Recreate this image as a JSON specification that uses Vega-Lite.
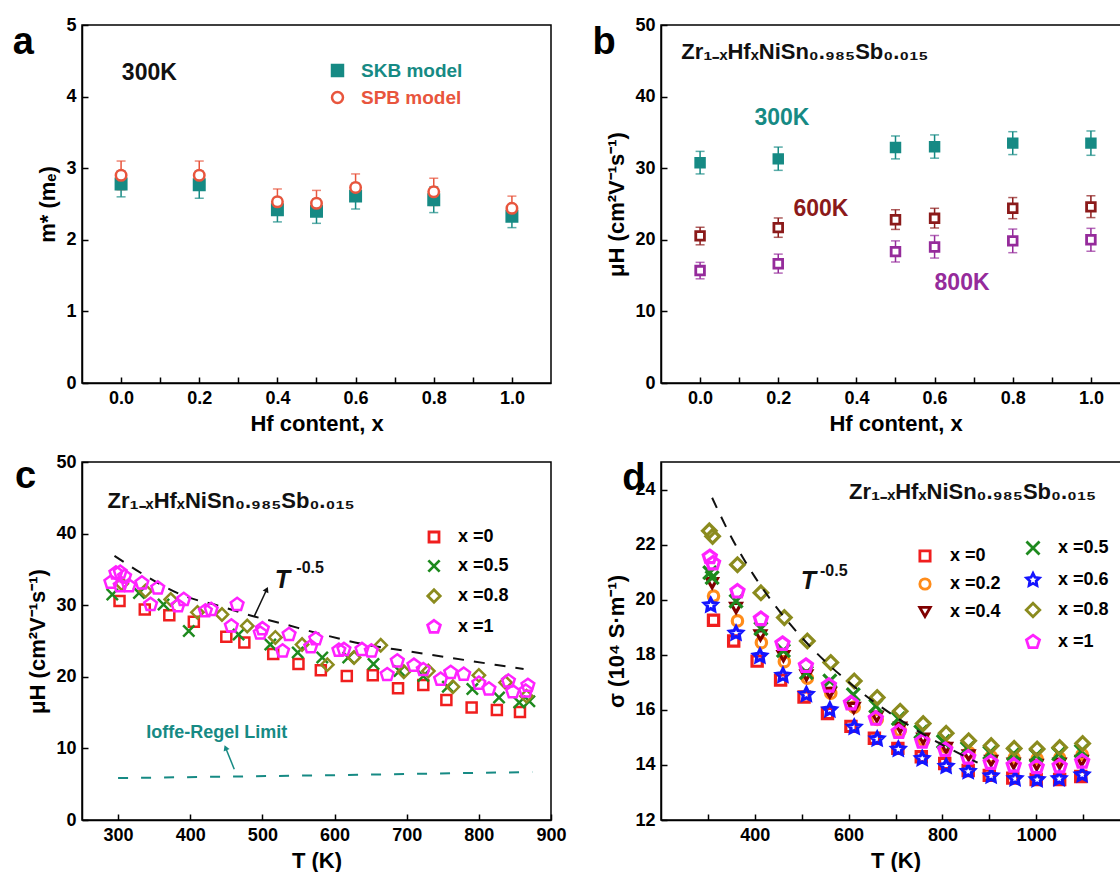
{
  "$schema": "https://vega.github.io/schema/vega-lite/v6.json",
  "background": "white",
  "padding": {"left": 12, "top": 15, "right": 0, "bottom": 0},
  "bounds": "flush",
  "columns": 2,
  "spacing": {"row": 79, "column": 110},
  "resolve": {"scale": {"color": "independent", "fill": "independent", "shape": "independent", "size": "independent"}},
  "datasets": {
    "a": [
      {"x": 0, "model": "SKB model", "m": 2.78, "lo": 2.60, "hi": 2.96},
      {"x": 0.2, "model": "SKB model", "m": 2.77, "lo": 2.58, "hi": 2.96},
      {"x": 0.4, "model": "SKB model", "m": 2.42, "lo": 2.25, "hi": 2.59},
      {"x": 0.5, "model": "SKB model", "m": 2.40, "lo": 2.23, "hi": 2.57},
      {"x": 0.6, "model": "SKB model", "m": 2.61, "lo": 2.43, "hi": 2.79},
      {"x": 0.8, "model": "SKB model", "m": 2.56, "lo": 2.38, "hi": 2.74},
      {"x": 1.0, "model": "SKB model", "m": 2.33, "lo": 2.17, "hi": 2.49},
      {"x": 0, "model": "SPB model", "m": 2.90, "lo": 2.70, "hi": 3.10},
      {"x": 0.2, "model": "SPB model", "m": 2.90, "lo": 2.70, "hi": 3.10},
      {"x": 0.4, "model": "SPB model", "m": 2.53, "lo": 2.35, "hi": 2.71},
      {"x": 0.5, "model": "SPB model", "m": 2.51, "lo": 2.33, "hi": 2.69},
      {"x": 0.6, "model": "SPB model", "m": 2.73, "lo": 2.54, "hi": 2.92},
      {"x": 0.8, "model": "SPB model", "m": 2.67, "lo": 2.48, "hi": 2.86},
      {"x": 1.0, "model": "SPB model", "m": 2.44, "lo": 2.27, "hi": 2.61}
    ],
    "b": [
      {"x": 0, "T": "300K", "mu": 30.75, "lo": 29.2, "hi": 32.35},
      {"x": 0.2, "T": "300K", "mu": 31.3, "lo": 29.7, "hi": 32.95},
      {"x": 0.5, "T": "300K", "mu": 32.9, "lo": 31.3, "hi": 34.5},
      {"x": 0.6, "T": "300K", "mu": 33.0, "lo": 31.4, "hi": 34.65},
      {"x": 0.8, "T": "300K", "mu": 33.5, "lo": 31.9, "hi": 35.1},
      {"x": 1.0, "T": "300K", "mu": 33.5, "lo": 31.8, "hi": 35.2},
      {"x": 0, "T": "600K", "mu": 20.55, "lo": 19.3, "hi": 21.75},
      {"x": 0.2, "T": "600K", "mu": 21.7, "lo": 20.35, "hi": 23.05},
      {"x": 0.5, "T": "600K", "mu": 22.8, "lo": 21.45, "hi": 24.2},
      {"x": 0.6, "T": "600K", "mu": 23.0, "lo": 21.65, "hi": 24.4},
      {"x": 0.8, "T": "600K", "mu": 24.4, "lo": 22.95, "hi": 25.9},
      {"x": 1.0, "T": "600K", "mu": 24.6, "lo": 23.1, "hi": 26.15},
      {"x": 0, "T": "800K", "mu": 15.7, "lo": 14.55, "hi": 16.85},
      {"x": 0.2, "T": "800K", "mu": 16.65, "lo": 15.35, "hi": 18.0},
      {"x": 0.5, "T": "800K", "mu": 18.35, "lo": 16.9, "hi": 19.85},
      {"x": 0.6, "T": "800K", "mu": 19.0, "lo": 17.45, "hi": 20.6},
      {"x": 0.8, "T": "800K", "mu": 19.85, "lo": 18.2, "hi": 21.5},
      {"x": 1.0, "T": "800K", "mu": 20.0, "lo": 18.4, "hi": 21.6}
    ],
    "c": [
      {"T": 302, "mu": 30.6, "s": "x =0"}, {"T": 337, "mu": 29.4, "s": "x =0"}, {"T": 371, "mu": 28.6, "s": "x =0"},
      {"T": 405, "mu": 27.7, "s": "x =0"}, {"T": 450, "mu": 25.6, "s": "x =0"}, {"T": 475, "mu": 24.8, "s": "x =0"},
      {"T": 515, "mu": 23.2, "s": "x =0"}, {"T": 550, "mu": 21.8, "s": "x =0"}, {"T": 581, "mu": 20.9, "s": "x =0"},
      {"T": 617, "mu": 20.1, "s": "x =0"}, {"T": 653, "mu": 20.2, "s": "x =0"}, {"T": 688, "mu": 18.4, "s": "x =0"},
      {"T": 723, "mu": 18.85, "s": "x =0"}, {"T": 755, "mu": 16.75, "s": "x =0"}, {"T": 790, "mu": 15.7, "s": "x =0"},
      {"T": 825, "mu": 15.35, "s": "x =0"}, {"T": 857, "mu": 15.1, "s": "x =0"},
      {"T": 292, "mu": 31.5, "s": "x =0.5"}, {"T": 329, "mu": 31.7, "s": "x =0.5"}, {"T": 363, "mu": 30.1, "s": "x =0.5"},
      {"T": 398, "mu": 26.4, "s": "x =0.5"}, {"T": 467, "mu": 25.9, "s": "x =0.5"}, {"T": 511, "mu": 24.5, "s": "x =0.5"},
      {"T": 549, "mu": 23.4, "s": "x =0.5"}, {"T": 583, "mu": 22.7, "s": "x =0.5"}, {"T": 619, "mu": 22.7, "s": "x =0.5"},
      {"T": 654, "mu": 21.8, "s": "x =0.5"}, {"T": 690, "mu": 20.8, "s": "x =0.5"}, {"T": 723, "mu": 20.1, "s": "x =0.5"},
      {"T": 757, "mu": 18.6, "s": "x =0.5"}, {"T": 791, "mu": 18.3, "s": "x =0.5"}, {"T": 828, "mu": 17.1, "s": "x =0.5"},
      {"T": 856, "mu": 16.4, "s": "x =0.5"}, {"T": 870, "mu": 16.6, "s": "x =0.5"},
      {"T": 305, "mu": 33.0, "s": "x =0.8"}, {"T": 338, "mu": 32.0, "s": "x =0.8"}, {"T": 373, "mu": 30.8, "s": "x =0.8"},
      {"T": 410, "mu": 29.0, "s": "x =0.8"}, {"T": 444, "mu": 28.7, "s": "x =0.8"}, {"T": 479, "mu": 27.1, "s": "x =0.8"},
      {"T": 518, "mu": 25.5, "s": "x =0.8"}, {"T": 555, "mu": 24.5, "s": "x =0.8"}, {"T": 590, "mu": 21.7, "s": "x =0.8"},
      {"T": 627, "mu": 22.7, "s": "x =0.8"}, {"T": 664, "mu": 24.4, "s": "x =0.8"}, {"T": 696, "mu": 20.7, "s": "x =0.8"},
      {"T": 730, "mu": 20.8, "s": "x =0.8"}, {"T": 764, "mu": 18.6, "s": "x =0.8"}, {"T": 800, "mu": 20.2, "s": "x =0.8"},
      {"T": 837, "mu": 19.2, "s": "x =0.8"}, {"T": 866, "mu": 17.3, "s": "x =0.8"},
      {"T": 290, "mu": 33.2, "s": "x =1"}, {"T": 297, "mu": 34.5, "s": "x =1"}, {"T": 303, "mu": 34.6, "s": "x =1"},
      {"T": 309, "mu": 34.0, "s": "x =1"}, {"T": 303, "mu": 32.7, "s": "x =1"}, {"T": 315, "mu": 32.7, "s": "x =1"},
      {"T": 333, "mu": 33.1, "s": "x =1"}, {"T": 345, "mu": 30.1, "s": "x =1"}, {"T": 355, "mu": 32.4, "s": "x =1"},
      {"T": 383, "mu": 29.9, "s": "x =1"}, {"T": 391, "mu": 30.8, "s": "x =1"}, {"T": 421, "mu": 29.2, "s": "x =1"},
      {"T": 429, "mu": 29.4, "s": "x =1"}, {"T": 457, "mu": 27.1, "s": "x =1"}, {"T": 465, "mu": 30.1, "s": "x =1"},
      {"T": 497, "mu": 26.1, "s": "x =1"}, {"T": 500, "mu": 26.7, "s": "x =1"}, {"T": 528, "mu": 23.6, "s": "x =1"},
      {"T": 537, "mu": 25.9, "s": "x =1"}, {"T": 567, "mu": 24.2, "s": "x =1"}, {"T": 574, "mu": 25.3, "s": "x =1"},
      {"T": 606, "mu": 23.7, "s": "x =1"}, {"T": 613, "mu": 23.8, "s": "x =1"}, {"T": 638, "mu": 23.8, "s": "x =1"},
      {"T": 651, "mu": 23.6, "s": "x =1"}, {"T": 673, "mu": 20.3, "s": "x =1"}, {"T": 687, "mu": 22.2, "s": "x =1"},
      {"T": 710, "mu": 21.6, "s": "x =1"}, {"T": 723, "mu": 21.0, "s": "x =1"}, {"T": 747, "mu": 19.65, "s": "x =1"},
      {"T": 761, "mu": 20.6, "s": "x =1"}, {"T": 779, "mu": 20.35, "s": "x =1"}, {"T": 800, "mu": 19.1, "s": "x =1"},
      {"T": 814, "mu": 18.3, "s": "x =1"}, {"T": 841, "mu": 19.4, "s": "x =1"}, {"T": 847, "mu": 17.9, "s": "x =1"},
      {"T": 865, "mu": 18.0, "s": "x =1"}, {"T": 868, "mu": 18.8, "s": "x =1"}
    ],
    "cline": [
      {"T": 295, "mu": 36.9}, {"T": 340, "mu": 34.0}, {"T": 389, "mu": 31.4}, {"T": 440, "mu": 29.9},
      {"T": 486, "mu": 28.5}, {"T": 523, "mu": 27.55}, {"T": 580, "mu": 26.0}, {"T": 638, "mu": 24.6},
      {"T": 700, "mu": 23.6}, {"T": 760, "mu": 22.67}, {"T": 825, "mu": 21.65}, {"T": 862, "mu": 21.1}
    ],
    "cioffe": [
      {"T": 300, "mu": 5.85}, {"T": 590, "mu": 6.25}, {"T": 874, "mu": 6.7}
    ],
    "d1": [
      {"T": 312, "sg": 19.25, "s": "x =0"}, {"T": 355, "sg": 18.5, "s": "x =0"}, {"T": 405, "sg": 17.77, "s": "x =0"},
      {"T": 455, "sg": 17.08, "s": "x =0"}, {"T": 505, "sg": 16.47, "s": "x =0"}, {"T": 555, "sg": 15.87, "s": "x =0"},
      {"T": 605, "sg": 15.4, "s": "x =0"}, {"T": 655, "sg": 14.97, "s": "x =0"}, {"T": 705, "sg": 14.6, "s": "x =0"},
      {"T": 755, "sg": 14.3, "s": "x =0"}, {"T": 805, "sg": 14.05, "s": "x =0"}, {"T": 855, "sg": 13.8, "s": "x =0"},
      {"T": 900, "sg": 13.62, "s": "x =0"}, {"T": 950, "sg": 13.52, "s": "x =0"}, {"T": 1000, "sg": 13.47, "s": "x =0"},
      {"T": 1050, "sg": 13.47, "s": "x =0"}, {"T": 1095, "sg": 13.58, "s": "x =0"},
      {"T": 312, "sg": 20.13, "s": "x =0.2"}, {"T": 363, "sg": 19.23, "s": "x =0.2"}, {"T": 414, "sg": 18.44, "s": "x =0.2"},
      {"T": 463, "sg": 17.75, "s": "x =0.2"}, {"T": 512, "sg": 17.15, "s": "x =0.2"}, {"T": 562, "sg": 16.6, "s": "x =0.2"},
      {"T": 612, "sg": 16.1, "s": "x =0.2"}, {"T": 661, "sg": 15.65, "s": "x =0.2"}, {"T": 710, "sg": 15.25, "s": "x =0.2"},
      {"T": 760, "sg": 14.9, "s": "x =0.2"}, {"T": 808, "sg": 14.65, "s": "x =0.2"}, {"T": 857, "sg": 14.45, "s": "x =0.2"},
      {"T": 904, "sg": 14.3, "s": "x =0.2"}, {"T": 953, "sg": 14.25, "s": "x =0.2"}, {"T": 1002, "sg": 14.22, "s": "x =0.2"},
      {"T": 1050, "sg": 14.25, "s": "x =0.2"}, {"T": 1098, "sg": 14.38, "s": "x =0.2"},
      {"T": 309, "sg": 20.6, "s": "x =0.4"}, {"T": 360, "sg": 19.7, "s": "x =0.4"}, {"T": 412, "sg": 18.7, "s": "x =0.4"},
      {"T": 461, "sg": 17.95, "s": "x =0.4"}, {"T": 510, "sg": 17.25, "s": "x =0.4"}, {"T": 560, "sg": 16.62, "s": "x =0.4"},
      {"T": 611, "sg": 16.07, "s": "x =0.4"}, {"T": 660, "sg": 15.75, "s": "x =0.4"}, {"T": 710, "sg": 15.35, "s": "x =0.4"},
      {"T": 759, "sg": 14.95, "s": "x =0.4"}, {"T": 808, "sg": 14.62, "s": "x =0.4"}, {"T": 856, "sg": 14.35, "s": "x =0.4"},
      {"T": 904, "sg": 14.15, "s": "x =0.4"}, {"T": 952, "sg": 14.05, "s": "x =0.4"}, {"T": 1001, "sg": 14.0, "s": "x =0.4"},
      {"T": 1050, "sg": 14.05, "s": "x =0.4"}, {"T": 1097, "sg": 14.15, "s": "x =0.4"}
    ],
    "d2": [
      {"T": 304, "sg": 20.98, "s": "x =0.5"}, {"T": 309, "sg": 20.8, "s": "x =0.5"}, {"T": 360, "sg": 19.95, "s": "x =0.5"},
      {"T": 413, "sg": 18.95, "s": "x =0.5"}, {"T": 461, "sg": 18.15, "s": "x =0.5"}, {"T": 510, "sg": 17.35, "s": "x =0.5"},
      {"T": 560, "sg": 17.05, "s": "x =0.5"}, {"T": 610, "sg": 16.55, "s": "x =0.5"}, {"T": 658, "sg": 16.14, "s": "x =0.5"},
      {"T": 706, "sg": 15.68, "s": "x =0.5"}, {"T": 754, "sg": 15.2, "s": "x =0.5"}, {"T": 802, "sg": 14.85, "s": "x =0.5"},
      {"T": 853, "sg": 14.6, "s": "x =0.5"}, {"T": 901, "sg": 14.45, "s": "x =0.5"}, {"T": 952, "sg": 14.4, "s": "x =0.5"},
      {"T": 1000, "sg": 14.35, "s": "x =0.5"}, {"T": 1048, "sg": 14.4, "s": "x =0.5"}, {"T": 1096, "sg": 14.5, "s": "x =0.5"},
      {"T": 306, "sg": 19.8, "s": "x =0.6"}, {"T": 360, "sg": 18.78, "s": "x =0.6"}, {"T": 411, "sg": 17.95, "s": "x =0.6"},
      {"T": 460, "sg": 17.25, "s": "x =0.6"}, {"T": 510, "sg": 16.56, "s": "x =0.6"}, {"T": 560, "sg": 16.0, "s": "x =0.6"},
      {"T": 612, "sg": 15.37, "s": "x =0.6"}, {"T": 661, "sg": 14.94, "s": "x =0.6"}, {"T": 706, "sg": 14.57, "s": "x =0.6"},
      {"T": 757, "sg": 14.23, "s": "x =0.6"}, {"T": 808, "sg": 13.95, "s": "x =0.6"}, {"T": 855, "sg": 13.76, "s": "x =0.6"},
      {"T": 904, "sg": 13.6, "s": "x =0.6"}, {"T": 955, "sg": 13.5, "s": "x =0.6"}, {"T": 1002, "sg": 13.46, "s": "x =0.6"},
      {"T": 1049, "sg": 13.5, "s": "x =0.6"}, {"T": 1098, "sg": 13.64, "s": "x =0.6"},
      {"T": 303, "sg": 22.5, "s": "x =0.8"}, {"T": 310, "sg": 22.3, "s": "x =0.8"}, {"T": 363, "sg": 21.27, "s": "x =0.8"},
      {"T": 413, "sg": 20.25, "s": "x =0.8"}, {"T": 463, "sg": 19.35, "s": "x =0.8"}, {"T": 512, "sg": 18.5, "s": "x =0.8"},
      {"T": 562, "sg": 17.72, "s": "x =0.8"}, {"T": 612, "sg": 17.05, "s": "x =0.8"}, {"T": 661, "sg": 16.45, "s": "x =0.8"},
      {"T": 710, "sg": 15.95, "s": "x =0.8"}, {"T": 759, "sg": 15.5, "s": "x =0.8"}, {"T": 808, "sg": 15.15, "s": "x =0.8"},
      {"T": 856, "sg": 14.88, "s": "x =0.8"}, {"T": 904, "sg": 14.7, "s": "x =0.8"}, {"T": 953, "sg": 14.6, "s": "x =0.8"},
      {"T": 1002, "sg": 14.58, "s": "x =0.8"}, {"T": 1050, "sg": 14.63, "s": "x =0.8"}, {"T": 1099, "sg": 14.78, "s": "x =0.8"},
      {"T": 304, "sg": 21.55, "s": "x =1"}, {"T": 311, "sg": 21.32, "s": "x =1"}, {"T": 363, "sg": 20.3, "s": "x =1"},
      {"T": 413, "sg": 19.3, "s": "x =1"}, {"T": 459, "sg": 18.4, "s": "x =1"}, {"T": 509, "sg": 17.6, "s": "x =1"},
      {"T": 558, "sg": 16.88, "s": "x =1"}, {"T": 605, "sg": 16.24, "s": "x =1"}, {"T": 658, "sg": 15.68, "s": "x =1"},
      {"T": 707, "sg": 15.2, "s": "x =1"}, {"T": 757, "sg": 14.85, "s": "x =1"}, {"T": 806, "sg": 14.55, "s": "x =1"},
      {"T": 855, "sg": 14.27, "s": "x =1"}, {"T": 903, "sg": 14.08, "s": "x =1"}, {"T": 952, "sg": 13.98, "s": "x =1"},
      {"T": 1001, "sg": 13.92, "s": "x =1"}, {"T": 1050, "sg": 13.95, "s": "x =1"}, {"T": 1098, "sg": 14.12, "s": "x =1"}
    ],
    "dline": [
      {"T": 309, "sg": 23.7}, {"T": 350, "sg": 22.27}, {"T": 400, "sg": 20.83}, {"T": 450, "sg": 19.64},
      {"T": 500, "sg": 18.63}, {"T": 550, "sg": 17.76}, {"T": 600, "sg": 17.01}, {"T": 650, "sg": 16.34},
      {"T": 700, "sg": 15.75}, {"T": 750, "sg": 15.21}, {"T": 800, "sg": 14.73}, {"T": 875, "sg": 14.08}
    ]
  },
  "concat": [
    {
      "width": 469,
      "height": 358,
      "layer": [
        {
          "data": {"name": "a"},
          "transform": [{"filter": "datum.model == 'SKB model'"}],
          "mark": {"type": "errorbar", "color": "#168a84", "thickness": 1.5, "ticks": {"size": 9}},
          "encoding": {
            "x": {"field": "x", "type": "quantitative", "title": "Hf content, x", "scale": {"domain": [-0.1, 1.1]},
              "axis": {"values": [0, 0.1, 0.2, 0.3, 0.4, 0.5, 0.6, 0.7, 0.8, 0.9, 1.0],
                "labelExpr": "abs(datum.value*5 - round(datum.value*5)) < 0.01 ? format(datum.value, '.1f') : ''"}},
            "y": {"field": "lo", "type": "quantitative", "title": "m* (mₑ)", "scale": {"domain": [0, 5]},
              "axis": {"values": [0, 0.5, 1, 1.5, 2, 2.5, 3, 3.5, 4, 4.5, 5],
                "labelExpr": "abs(datum.value - round(datum.value)) < 0.01 ? format(datum.value, 'd') : ''"}},
            "y2": {"field": "hi"}
          }
        },
        {
          "data": {"name": "a"},
          "transform": [{"filter": "datum.model == 'SPB model'"}],
          "mark": {"type": "errorbar", "color": "#e8553d", "thickness": 1.5, "ticks": {"size": 9}},
          "encoding": {
            "x": {"field": "x", "type": "quantitative", "title": "Hf content, x"},
            "y": {"field": "lo", "type": "quantitative", "title": "m* (mₑ)"},
            "y2": {"field": "hi"}
          }
        },
        {
          "data": {"name": "a"},
          "mark": {"type": "point", "filled": false, "strokeWidth": 2.5, "size": 110, "opacity": 1},
          "encoding": {
            "x": {"field": "x", "type": "quantitative", "title": "Hf content, x"},
            "y": {"field": "m", "type": "quantitative", "title": "m* (mₑ)"},
            "color": {"field": "model", "type": "nominal", "scale": {"domain": ["SKB model", "SPB model"], "range": ["#168a84", "#e8553d"]},
              "legend": {"orient": "none", "legendX": 246, "legendY": 36, "title": null, "symbolSize": 120, "labelFontSize": 19, "labelOffset": 14, "rowPadding": 6, "symbolStrokeWidth": 2.5,
                "labelColor": {"expr": "datum.value == 'SKB model' ? '#168a84' : '#e8553d'"}}},
            "fill": {"field": "model", "type": "nominal", "scale": {"domain": ["SKB model", "SPB model"], "range": ["#168a84", "#ffffff"]}},
            "shape": {"field": "model", "type": "nominal", "scale": {"domain": ["SKB model", "SPB model"], "range": ["square", "circle"]}}
          }
        },
        {
          "data": {"values": [{"x": 0.002, "y": 4.23, "t": "300K"}]},
          "mark": {"type": "text", "align": "left", "baseline": "alphabetic", "fontSize": 23, "fontWeight": "bold", "color": "#111"},
          "encoding": {
            "x": {"field": "x", "type": "quantitative", "title": "Hf content, x"},
            "y": {"field": "y", "type": "quantitative", "title": "m* (mₑ)"},
            "text": {"field": "t"}
          }
        },
        {
          "data": {"values": [{"x": -0.277, "y": 4.59, "t": "a"}]},
          "mark": {"type": "text", "align": "left", "baseline": "alphabetic", "fontSize": 38, "fontWeight": "bold", "color": "#000"},
          "encoding": {
            "x": {"field": "x", "type": "quantitative", "title": "Hf content, x"},
            "y": {"field": "y", "type": "quantitative", "title": "m* (mₑ)"},
            "text": {"field": "t"}
          }
        }
      ]
    },
    {
      "width": 469,
      "height": 358,
      "layer": [
        {
          "data": {"name": "b"},
          "transform": [{"filter": "datum.T == '300K'"}],
          "mark": {"type": "errorbar", "color": "#168a84", "thickness": 1.5, "ticks": {"size": 9}},
          "encoding": {
            "x": {"field": "x", "type": "quantitative", "title": "Hf content, x", "scale": {"domain": [-0.1, 1.1]},
              "axis": {"values": [0, 0.1, 0.2, 0.3, 0.4, 0.5, 0.6, 0.7, 0.8, 0.9, 1.0],
                "labelExpr": "abs(datum.value*5 - round(datum.value*5)) < 0.01 ? format(datum.value, '.1f') : ''"}},
            "y": {"field": "lo", "type": "quantitative", "title": "μH (cm²V⁻¹s⁻¹)", "scale": {"domain": [0, 50]},
              "axis": {"values": [0, 5, 10, 15, 20, 25, 30, 35, 40, 45, 50],
                "labelExpr": "datum.value % 10 == 0 ? format(datum.value, 'd') : ''"}},
            "y2": {"field": "hi"}
          }
        },
        {
          "data": {"name": "b"},
          "transform": [{"filter": "datum.T == '600K'"}],
          "mark": {"type": "errorbar", "color": "#8b1a1a", "thickness": 1.5, "ticks": {"size": 9}},
          "encoding": {
            "x": {"field": "x", "type": "quantitative", "title": "Hf content, x"},
            "y": {"field": "lo", "type": "quantitative", "title": "μH (cm²V⁻¹s⁻¹)"},
            "y2": {"field": "hi"}
          }
        },
        {
          "data": {"name": "b"},
          "transform": [{"filter": "datum.T == '800K'"}],
          "mark": {"type": "errorbar", "color": "#952b9b", "thickness": 1.5, "ticks": {"size": 9}},
          "encoding": {
            "x": {"field": "x", "type": "quantitative", "title": "Hf content, x"},
            "y": {"field": "lo", "type": "quantitative", "title": "μH (cm²V⁻¹s⁻¹)"},
            "y2": {"field": "hi"}
          }
        },
        {
          "data": {"name": "b"},
          "mark": {"type": "point", "shape": "square", "filled": false, "strokeWidth": 2.8, "size": 75, "opacity": 1},
          "encoding": {
            "x": {"field": "x", "type": "quantitative", "title": "Hf content, x"},
            "y": {"field": "mu", "type": "quantitative", "title": "μH (cm²V⁻¹s⁻¹)"},
            "color": {"field": "T", "type": "nominal", "scale": {"domain": ["300K", "600K", "800K"], "range": ["#168a84", "#8b1a1a", "#952b9b"]}, "legend": null},
            "fill": {"field": "T", "type": "nominal", "scale": {"domain": ["300K", "600K", "800K"], "range": ["#168a84", "#ffffff", "#ffffff"]}, "legend": null}
          }
        },
        {
          "data": {"values": [{"x": 0.139, "y": 36.0, "T": "300K"}, {"x": 0.239, "y": 23.3, "T": "600K"}, {"x": 0.600, "y": 12.95, "T": "800K"}]},
          "mark": {"type": "text", "align": "left", "baseline": "alphabetic", "fontSize": 23, "fontWeight": "bold"},
          "encoding": {
            "x": {"field": "x", "type": "quantitative", "title": "Hf content, x"},
            "y": {"field": "y", "type": "quantitative", "title": "μH (cm²V⁻¹s⁻¹)"},
            "text": {"field": "T"},
            "color": {"field": "T", "type": "nominal", "legend": null}
          }
        },
        {
          "data": {"values": [{"x": -0.048, "y": 45.2, "t": "Zr₁₋ₓHfₓNiSn₀.₉₈₅Sb₀.₀₁₅"}]},
          "mark": {"type": "text", "align": "left", "baseline": "alphabetic", "fontSize": 22, "fontWeight": "bold", "color": "#111"},
          "encoding": {
            "x": {"field": "x", "type": "quantitative", "title": "Hf content, x"},
            "y": {"field": "y", "type": "quantitative", "title": "μH (cm²V⁻¹s⁻¹)"},
            "text": {"field": "t"}
          }
        },
        {
          "data": {"values": [{"x": -0.275, "y": 45.9, "t": "b"}]},
          "mark": {"type": "text", "align": "left", "baseline": "alphabetic", "fontSize": 38, "fontWeight": "bold", "color": "#000"},
          "encoding": {
            "x": {"field": "x", "type": "quantitative", "title": "Hf content, x"},
            "y": {"field": "y", "type": "quantitative", "title": "μH (cm²V⁻¹s⁻¹)"},
            "text": {"field": "t"}
          }
        }
      ]
    },
    {
      "width": 469,
      "height": 358,
      "layer": [
        {
          "data": {"name": "cioffe"},
          "mark": {"type": "line", "color": "#168a84", "strokeWidth": 2, "strokeDash": [10, 13]},
          "encoding": {
            "x": {"field": "T", "type": "quantitative", "title": "T (K)", "scale": {"domain": [250, 900]},
              "axis": {"values": [300, 350, 400, 450, 500, 550, 600, 650, 700, 750, 800, 850, 900],
                "labelExpr": "datum.value % 100 == 0 ? format(datum.value, 'd') : ''"}},
            "y": {"field": "mu", "type": "quantitative", "title": "μH (cm²V⁻¹s⁻¹)", "scale": {"domain": [0, 50]},
              "axis": {"values": [0, 5, 10, 15, 20, 25, 30, 35, 40, 45, 50],
                "labelExpr": "datum.value % 10 == 0 ? format(datum.value, 'd') : ''"}}
          }
        },
        {
          "data": {"name": "cline"},
          "mark": {"type": "line", "color": "#111", "strokeWidth": 2, "strokeDash": [11, 10], "interpolate": "monotone"},
          "encoding": {
            "x": {"field": "T", "type": "quantitative", "title": "T (K)"},
            "y": {"field": "mu", "type": "quantitative", "title": "μH (cm²V⁻¹s⁻¹)"}
          }
        },
        {
          "data": {"name": "c"},
          "mark": {"type": "point", "filled": false, "strokeWidth": 2.5, "opacity": 1},
          "encoding": {
            "x": {"field": "T", "type": "quantitative", "title": "T (K)"},
            "y": {"field": "mu", "type": "quantitative", "title": "μH (cm²V⁻¹s⁻¹)"},
            "color": {"field": "s", "type": "nominal", "scale": {"domain": ["x =0", "x =0.5", "x =0.8", "x =1"], "range": ["#f01e1e", "#1e8a1e", "#8b8b1e", "#ff22ff"]},
              "legend": {"orient": "none", "legendX": 343, "legendY": 66, "title": null, "symbolSize": 160, "labelFontSize": 18, "labelOffset": 15, "rowPadding": 6, "symbolStrokeWidth": 2.8}},
            "shape": {"field": "s", "type": "nominal", "scale": {"domain": ["x =0", "x =0.5", "x =0.8", "x =1"], "range": ["square", "M-1,-1L1,1M-1,1L1,-1", "diamond", "M0,-1L0.951,-0.309L0.588,0.809L-0.588,0.809L-0.951,-0.309Z"]}},
            "size": {"field": "s", "type": "nominal", "scale": {"domain": ["x =0", "x =0.5", "x =0.8", "x =1"], "range": [100, 180, 180, 170]}, "legend": null}
          }
        },
        {
          "data": {"values": [{"T": 488.5, "mu": 28.4, "T2": 506, "mu2": 32.2}]},
          "mark": {"type": "rule", "color": "#111", "strokeWidth": 1.5},
          "encoding": {
            "x": {"field": "T", "type": "quantitative", "title": "T (K)"},
            "y": {"field": "mu", "type": "quantitative", "title": "μH (cm²V⁻¹s⁻¹)"},
            "x2": {"field": "T2"},
            "y2": {"field": "mu2"}
          }
        },
        {
          "data": {"values": [{"T": 506, "mu": 32.2}]},
          "mark": {"type": "point", "shape": "triangle-up", "filled": true, "color": "#111", "size": 40, "angle": 25, "opacity": 1},
          "encoding": {
            "x": {"field": "T", "type": "quantitative", "title": "T (K)"},
            "y": {"field": "mu", "type": "quantitative", "title": "μH (cm²V⁻¹s⁻¹)"}
          }
        },
        {
          "data": {"values": [{"T": 461, "mu": 7.1, "T2": 449, "mu2": 10.1}]},
          "mark": {"type": "rule", "color": "#168a84", "strokeWidth": 1.5},
          "encoding": {
            "x": {"field": "T", "type": "quantitative", "title": "T (K)"},
            "y": {"field": "mu", "type": "quantitative", "title": "μH (cm²V⁻¹s⁻¹)"},
            "x2": {"field": "T2"},
            "y2": {"field": "mu2"}
          }
        },
        {
          "data": {"values": [{"T": 449, "mu": 10.1}]},
          "mark": {"type": "point", "shape": "triangle-up", "filled": true, "color": "#168a84", "size": 40, "angle": 338, "opacity": 1},
          "encoding": {
            "x": {"field": "T", "type": "quantitative", "title": "T (K)"},
            "y": {"field": "mu", "type": "quantitative", "title": "μH (cm²V⁻¹s⁻¹)"}
          }
        },
        {
          "data": {"values": [{"T": 339, "mu": 11.45, "t": "Ioffe-Regel Limit"}]},
          "mark": {"type": "text", "align": "left", "baseline": "alphabetic", "fontSize": 18, "fontWeight": "bold", "color": "#168a84"},
          "encoding": {
            "x": {"field": "T", "type": "quantitative", "title": "T (K)"},
            "y": {"field": "mu", "type": "quantitative", "title": "μH (cm²V⁻¹s⁻¹)"},
            "text": {"field": "t"}
          }
        },
        {
          "data": {"values": [{"T": 517, "mu": 32.45, "t": "T"}]},
          "mark": {"type": "text", "align": "left", "baseline": "alphabetic", "fontSize": 25, "fontWeight": "bold", "fontStyle": "italic", "color": "#111"},
          "encoding": {
            "x": {"field": "T", "type": "quantitative", "title": "T (K)"},
            "y": {"field": "mu", "type": "quantitative", "title": "μH (cm²V⁻¹s⁻¹)"},
            "text": {"field": "t"}
          }
        },
        {
          "data": {"values": [{"T": 547, "mu": 34.5, "t": "-0.5"}]},
          "mark": {"type": "text", "align": "left", "baseline": "alphabetic", "fontSize": 16, "fontWeight": "bold", "color": "#111"},
          "encoding": {
            "x": {"field": "T", "type": "quantitative", "title": "T (K)"},
            "y": {"field": "mu", "type": "quantitative", "title": "μH (cm²V⁻¹s⁻¹)"},
            "text": {"field": "t"}
          }
        },
        {
          "data": {"values": [{"T": 285.3, "mu": 43.6, "t": "Zr₁₋ₓHfₓNiSn₀.₉₈₅Sb₀.₀₁₅"}]},
          "mark": {"type": "text", "align": "left", "baseline": "alphabetic", "fontSize": 22, "fontWeight": "bold", "color": "#111"},
          "encoding": {
            "x": {"field": "T", "type": "quantitative", "title": "T (K)"},
            "y": {"field": "mu", "type": "quantitative", "title": "μH (cm²V⁻¹s⁻¹)"},
            "text": {"field": "t"}
          }
        },
        {
          "data": {"values": [{"T": 157, "mu": 46.4, "t": "c"}]},
          "mark": {"type": "text", "align": "left", "baseline": "alphabetic", "fontSize": 38, "fontWeight": "bold", "color": "#000"},
          "encoding": {
            "x": {"field": "T", "type": "quantitative", "title": "T (K)"},
            "y": {"field": "mu", "type": "quantitative", "title": "μH (cm²V⁻¹s⁻¹)"},
            "text": {"field": "t"}
          }
        }
      ]
    },
    {
      "width": 469,
      "height": 358,
      "resolve": {"scale": {"color": "independent", "shape": "independent", "size": "independent"}},
      "layer": [
        {
          "data": {"name": "d1"},
          "mark": {"type": "point", "filled": false, "strokeWidth": 3.2, "opacity": 1},
          "encoding": {
            "x": {"field": "T", "type": "quantitative", "title": "T (K)", "scale": {"domain": [250, 1150]},
              "axis": {"values": [300, 400, 500, 600, 700, 800, 900, 1000, 1100],
                "labelExpr": "datum.value % 200 == 0 ? format(datum.value, 'd') : ''"}},
            "y": {"field": "sg", "type": "quantitative", "title": "σ (10⁴ S·m⁻¹)", "scale": {"domain": [12, 25]},
              "axis": {"values": [12, 13, 14, 15, 16, 17, 18, 19, 20, 21, 22, 23, 24, 25],
                "labelExpr": "datum.value % 2 == 0 ? format(datum.value, 'd') : ''"}},
            "color": {"field": "s", "type": "nominal", "scale": {"domain": ["x =0", "x =0.2", "x =0.4"], "range": ["#f01e1e", "#ff8c1a", "#800000"]},
              "legend": {"orient": "none", "legendX": 255, "legendY": 85, "title": null, "symbolSize": 130, "labelFontSize": 18, "labelOffset": 16, "rowPadding": 6, "symbolStrokeWidth": 2.8}},
            "shape": {"field": "s", "type": "nominal", "scale": {"domain": ["x =0", "x =0.2", "x =0.4"], "range": ["square", "circle", "triangle-down"]}},
            "size": {"field": "s", "type": "nominal", "scale": {"domain": ["x =0", "x =0.2", "x =0.4"], "range": [105, 110, 120]}, "legend": null}
          }
        },
        {
          "data": {"name": "d2"},
          "mark": {"type": "point", "filled": false, "strokeWidth": 3.2, "opacity": 1},
          "encoding": {
            "x": {"field": "T", "type": "quantitative", "title": "T (K)"},
            "y": {"field": "sg", "type": "quantitative", "title": "σ (10⁴ S·m⁻¹)"},
            "color": {"field": "s", "type": "nominal", "scale": {"domain": ["x =0.5", "x =0.6", "x =0.8", "x =1"], "range": ["#1e8a1e", "#1414ff", "#8b8b1e", "#ff22ff"]},
              "legend": {"orient": "none", "legendX": 363, "legendY": 77, "title": null, "symbolSize": 150, "labelFontSize": 18, "labelOffset": 16, "rowPadding": 6, "symbolStrokeWidth": 2.8}},
            "shape": {"field": "s", "type": "nominal", "scale": {"domain": ["x =0.5", "x =0.6", "x =0.8", "x =1"], "range": ["M-1,-1L1,1M-1,1L1,-1", "M0,-1L0.294,-0.405L0.951,-0.309L0.476,0.155L0.588,0.809L0,0.5L-0.588,0.809L-0.476,0.155L-0.951,-0.309L-0.294,-0.405Z", "diamond", "M0,-1L0.951,-0.309L0.588,0.809L-0.588,0.809L-0.951,-0.309Z"]}},
            "size": {"field": "s", "type": "nominal", "scale": {"domain": ["x =0.5", "x =0.6", "x =0.8", "x =1"], "range": [170, 190, 240, 200]}, "legend": null}
          }
        },
        {
          "data": {"name": "dline"},
          "mark": {"type": "line", "color": "#111", "strokeWidth": 2, "strokeDash": [11, 10], "interpolate": "monotone"},
          "encoding": {
            "x": {"field": "T", "type": "quantitative", "title": "T (K)"},
            "y": {"field": "sg", "type": "quantitative", "title": "σ (10⁴ S·m⁻¹)"}
          }
        },
        {
          "data": {"values": [{"T": 498, "sg": 20.38, "t": "T"}]},
          "mark": {"type": "text", "align": "left", "baseline": "alphabetic", "fontSize": 25, "fontWeight": "bold", "fontStyle": "italic", "color": "#111"},
          "encoding": {
            "x": {"field": "T", "type": "quantitative", "title": "T (K)"},
            "y": {"field": "sg", "type": "quantitative", "title": "σ (10⁴ S·m⁻¹)"},
            "text": {"field": "t"}
          }
        },
        {
          "data": {"values": [{"T": 539, "sg": 20.86, "t": "-0.5"}]},
          "mark": {"type": "text", "align": "left", "baseline": "alphabetic", "fontSize": 16, "fontWeight": "bold", "color": "#111"},
          "encoding": {
            "x": {"field": "T", "type": "quantitative", "title": "T (K)"},
            "y": {"field": "sg", "type": "quantitative", "title": "σ (10⁴ S·m⁻¹)"},
            "text": {"field": "t"}
          }
        },
        {
          "data": {"values": [{"T": 601, "sg": 23.64, "t": "Zr₁₋ₓHfₓNiSn₀.₉₈₅Sb₀.₀₁₅"}]},
          "mark": {"type": "text", "align": "left", "baseline": "alphabetic", "fontSize": 22, "fontWeight": "bold", "color": "#111"},
          "encoding": {
            "x": {"field": "T", "type": "quantitative", "title": "T (K)"},
            "y": {"field": "sg", "type": "quantitative", "title": "σ (10⁴ S·m⁻¹)"},
            "text": {"field": "t"}
          }
        },
        {
          "data": {"values": [{"T": 117.6, "sg": 23.97, "t": "d"}]},
          "mark": {"type": "text", "align": "left", "baseline": "alphabetic", "fontSize": 38, "fontWeight": "bold", "color": "#000"},
          "encoding": {
            "x": {"field": "T", "type": "quantitative", "title": "T (K)"},
            "y": {"field": "sg", "type": "quantitative", "title": "σ (10⁴ S·m⁻¹)"},
            "text": {"field": "t"}
          }
        }
      ]
    }
  ],
  "config": {
    "font": "Liberation Sans",
    "view": {"stroke": "#000", "strokeWidth": 1.5},
    "axis": {
      "labelFont": "Liberation Sans", "labelFontSize": 18, "labelFontWeight": "bold", "labelColor": "#000",
      "titleFont": "Liberation Sans", "titleFontSize": 22, "titleFontWeight": "bold", "titleColor": "#000",
      "domainColor": "#000", "domainWidth": 1.5, "tickColor": "#000", "tickWidth": 1.5, "tickSize": -6,
      "labelPadding": 12, "titlePadding": 6, "grid": false, "labelOverlap": false, "labelFlush": false
    },
    "legend": {
      "labelFont": "Liberation Sans", "labelFontWeight": "bold", "labelColor": "#000", "padding": 0
    },
    "text": {"font": "Liberation Sans"}
  }
}
